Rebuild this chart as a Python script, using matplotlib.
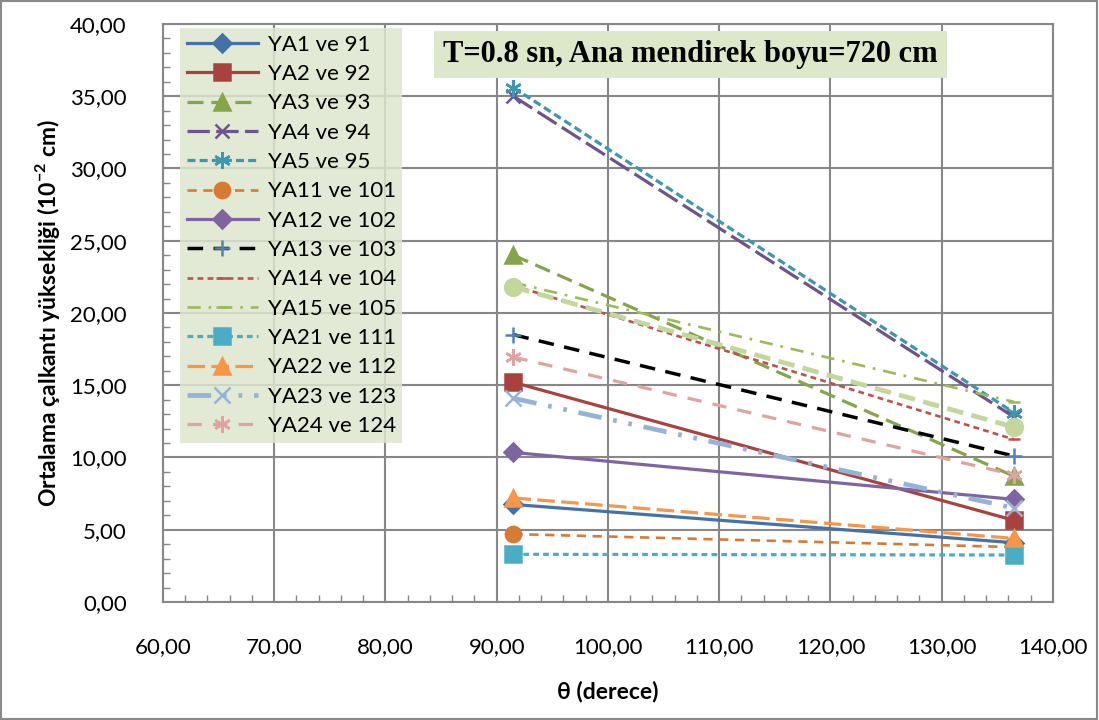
import matplotlib.pyplot as plt
from matplotlib.patches import Rectangle
from matplotlib.ticker import MultipleLocator, FuncFormatter

plt.rcParams['font.family'] = ['Lato', 'DejaVu Sans']
plt.rcParams['mathtext.fontset'] = 'custom'
plt.rcParams['mathtext.rm'] = 'Lato'
plt.rcParams['mathtext.bf'] = 'Lato:bold'

theta = [91.5, 136.5]

labels = ["YA1 ve 91", "YA2 ve 92", "YA3 ve 93", "YA4 ve 94", "YA5 ve 95",
          "YA11 ve 101", "YA12 ve 102", "YA13 ve 103", "YA14 ve 104", "YA15 ve 105",
          "YA21 ve 111", "YA22 ve 112", "YA23 ve 123", "YA24 ve 124", None]

ya1 = [6.75, 4.1]
ya2 = [15.2, 5.65]
ya3 = [24.0, 8.7]
ya4 = [35.0, 12.8]
ya5 = [35.6, 13.1]
ya11 = [4.7, 3.8]
ya12 = [10.35, 7.1]
ya13 = [18.5, 10.1]
ya14 = [21.9, 11.25]
ya15 = [22.1, 13.85]
ya21 = [3.3, 3.25]
ya22 = [7.2, 4.4]
ya23 = [14.1, 6.5]
ya24 = [16.95, 8.8]
ya25 = [21.8, 12.1]

series = [ya1, ya2, ya3, ya4, ya5, ya11, ya12, ya13, ya14, ya15, ya21, ya22, ya23, ya24, ya25]

# line colour, marker colour, marker, line style, line width, marker size
styles = [
    ("#4472A8", "#4472A8", "D", "-", 2.3, 9),
    ("#A8423F", "#A8423F", "s", "-", 2.3, 11),
    ("#86A44A", "#86A44A", "^", (0, (5, 2.5)), 2.3, 11),
    ("#6E548D", "#6E548D", "x", (0, (7, 2)), 2.3, 10),
    ("#3C97B0", "#3C97B0", (6, 2, 0), (0, (2.5, 1.3)), 2.3, 12),
    ("#D57B33", "#D57B33", "o", (0, (3.5, 2.5)), 1.9, 11),
    ("#8064A2", "#8064A2", "D", "-", 2.3, 9),
    ("#000000", "#4F81BD", "+", (0, (4.5, 3)), 2.5, 12),
    ("#C0504D", "#C0504D", "_", (0, (2.2, 1.6)), 1.9, 9),
    ("#9BBB59", "#9BBB59", "_", (0, (5, 3, 1, 3)), 1.9, 9),
    ("#4BACC6", "#4BACC6", "s", (0, (1.8, 1.3)), 2.3, 11),
    ("#F79646", "#F79646", "^", (0, (5.5, 2)), 2.3, 11),
    ("#95B3D7", "#95B3D7", "x", (0, (5, 2.5, 0.8, 2.5, 0.8, 2.5)), 3.4, 11),
    ("#E0A3A1", "#E0A3A1", (6, 2, 0), (0, (4.5, 3.5)), 2.3, 12),
    ("#C3D69B", "#C3D69B", "o", (0, (3.5, 1.8)), 3.4, 12),
]

fig = plt.figure(figsize=(10.99, 7.2), dpi=100)
ax = fig.add_axes([0.1483, 0.1639, 0.8098, 0.8028])

for vals, lab, (lc, mc, mk, ls, lw, ms) in zip(series, labels, styles):
    ax.plot(theta, vals, color=lc, linestyle=ls, linewidth=lw, marker=mk,
            markersize=ms, markerfacecolor=mc, markeredgecolor=mc,
            markeredgewidth=1.8, label=lab if lab else "_nolegend_")

ax.set_xlim(60, 140)
ax.set_ylim(0, 40)
ax.xaxis.set_major_locator(MultipleLocator(10))
ax.xaxis.set_minor_locator(MultipleLocator(2))
ax.yaxis.set_major_locator(MultipleLocator(5))
ax.yaxis.set_minor_locator(MultipleLocator(1))
fmt = FuncFormatter(lambda v, p: f"{v:.2f}".replace(".", ","))
ax.xaxis.set_major_formatter(fmt)
ax.yaxis.set_major_formatter(fmt)

ax.grid(True, which='major', color='#878787', linewidth=1.5)
ax.set_axisbelow(True)
for s in ax.spines.values():
    s.set_color('#878787')
    s.set_linewidth(1.5)
ax.tick_params(which='both', direction='in', color='#878787', labelsize=16)
ax.tick_params(which='major', length=6, width=1.2)
ax.tick_params(which='minor', length=5, width=1.0)
ax.tick_params(axis='y', pad=26)
ax.tick_params(axis='x', pad=25)

ax.set_ylabel("Ortalama çalkantı yüksekliği (10$^{\\mathbf{-2}}$ cm)",
              fontsize=16.5, fontweight='bold', labelpad=6)
ax.set_xlabel("θ (derece)", fontsize=16.5, fontweight='bold', labelpad=17)

leg = ax.legend(loc='upper left', bbox_to_anchor=(0.019, 0.993), borderaxespad=0,
                fontsize=16, handlelength=3.2, labelspacing=0.42,
                frameon=True, fancybox=False, borderpad=0.3, handletextpad=0.45)
leg.get_frame().set_facecolor('#DDE6CD')
leg.get_frame().set_edgecolor('none')
leg.get_frame().set_alpha(0.85)

ax.text(0.593, 0.947, "T=0.8 sn, Ana mendirek boyu=720 cm", transform=ax.transAxes,
        ha='center', va='center', fontsize=22, fontweight='bold', family='Liberation Serif',
        bbox=dict(boxstyle='square,pad=0.3', facecolor='#DDE8CB', edgecolor='none'))

fig.patches.append(Rectangle((0.001, 0.001), 0.997, 0.997, transform=fig.transFigure,
                             fill=False, edgecolor='#898989', linewidth=1.5))

fig.savefig("out.png", dpi=100)
